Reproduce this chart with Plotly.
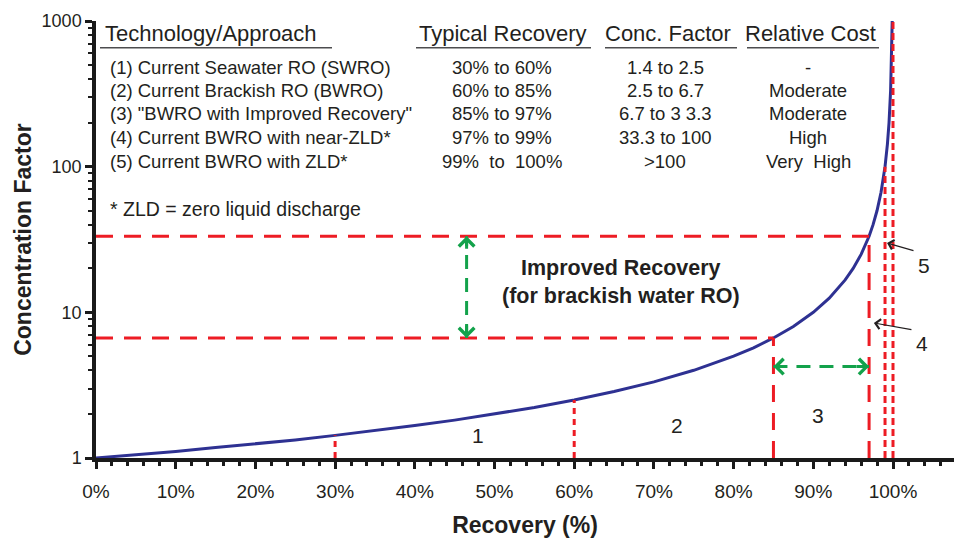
import math
import plotly.graph_objects as go

# ---------------- data ----------------
recovery_pct = [0, 5, 10, 15, 20, 25, 30, 35, 40, 45, 50, 55, 60, 65, 70, 75, 80,
                82.5, 85, 87.5, 90, 92, 94, 95, 96, 97, 97.5, 98, 98.5, 99, 99.3, 99.5, 99.7, 99.8, 99.9]
conc_factor = [1.0, 1.05, 1.11, 1.18, 1.25, 1.33, 1.43, 1.54, 1.67, 1.82, 2.0, 2.22, 2.5,
               2.86, 3.33, 4.0, 5.0, 5.71, 6.67, 8.0, 10.0, 12.5, 16.7, 20.0, 25.0, 33.3,
               40.0, 50.0, 66.7, 100.0, 143.0, 200.0, 333.0, 500.0, 1000.0]

stage_bounds_pct = [30, 60, 85, 97, 99, 100]
stage_bounds_cf = [1.43, 2.5, 6.67, 33.3, 100, 1000]

improved_arrow_x = 46.5      # recovery (%) of vertical green arrow
improved_arrow_cf = 4.24     # concentration factor of horizontal green arrow

x_tick_vals = [0, 10, 20, 30, 40, 50, 60, 70, 80, 90, 100]
x_tick_text = ["0%", "10%", "20%", "30%", "40%", "50%", "60%", "70%", "80%", "90%", "100%"]
y_tick_vals = [1, 10, 100, 1000]
y_tick_text = ["1", "10", "100", "1000"]
y_minor_vals = [m * d for d in (1, 10, 100) for m in range(2, 10)]

table_header = ["Technology/Approach", "Typical Recovery", "Conc. Factor", "Relative Cost"]
table_tech = ["(1) Current Seawater RO (SWRO)", "(2) Current Brackish RO (BWRO)",
              "(3) \"BWRO with Improved Recovery\"", "(4) Current BWRO with near-ZLD*",
              "(5) Current BWRO with ZLD*"]
table_recovery = ["30% to 60%", "60% to 85%", "85% to 97%", "97% to 99%", "99%\u00a0 to\u00a0 100%"]
table_cf = ["1.4 to 2.5", "2.5 to 6.7", "6.7 to 3 3.3", "33.3 to 100", ">100"]
table_cost = ["-", "Moderate", "Moderate", "High", "Very\u00a0 High"]
footnote = "* ZLD = zero liquid discharge"

# ---------------- styling ----------------
W, H = 954, 538
ML, MR, MT, MB = 96, 0, 21, 80
PW, PH = W - ML - MR, H - MT - MB
PX_PER_PCT = 7.97
X_MAX = PW / PX_PER_PCT
Y_MAX_LOG = 3.0

FONT = "Liberation Sans, Arial, Helvetica, sans-serif"
TXT = "#231f20"
RED = "#ed1c24"
BLUE = "#2e3192"
GREEN = "#13a24b"


def pxx(px):
    return (px - ML) / PW


def pyy(py):
    return (H - MB - py) / PH


fig = go.Figure()

# concentration factor curve
fig.add_trace(go.Scatter(x=recovery_pct, y=conc_factor, mode="lines",
                         line=dict(color=BLUE, width=3), hoverinfo="skip", showlegend=False))

# horizontal guides at CF of 85% and 97%
for i in (2, 3):
    fig.add_trace(go.Scatter(x=[0, stage_bounds_pct[i]], y=[stage_bounds_cf[i]] * 2, mode="lines",
                             line=dict(color=RED, width=3, dash="17px,11px"),
                             hoverinfo="skip", showlegend=False))
    fig.add_trace(go.Scatter(x=[stage_bounds_pct[i]] * 2, y=[1, stage_bounds_cf[i]], mode="lines",
                             line=dict(color=RED, width=3, dash="17px,11px"),
                             hoverinfo="skip", showlegend=False))
# short dashes at 30% and 60%
for i in (0, 1):
    fig.add_trace(go.Scatter(x=[stage_bounds_pct[i]] * 2, y=[1, stage_bounds_cf[i]], mode="lines",
                             line=dict(color=RED, width=3, dash="6px,5px"),
                             hoverinfo="skip", showlegend=False))
# dotted at 99% and 100%
for i in (4, 5):
    fig.add_trace(go.Scatter(x=[stage_bounds_pct[i]] * 2, y=[1, stage_bounds_cf[i]], mode="lines",
                             line=dict(color=RED, width=3, dash="7px,4px"),
                             hoverinfo="skip", showlegend=False))

# green dashed shafts
fig.add_trace(go.Scatter(x=[improved_arrow_x] * 2, y=[stage_bounds_cf[2], stage_bounds_cf[3]],
                         mode="lines", line=dict(color=GREEN, width=3, dash="14px,9px"),
                         hoverinfo="skip", showlegend=False))
fig.add_trace(go.Scatter(x=[stage_bounds_pct[2], stage_bounds_pct[3]], y=[improved_arrow_cf] * 2,
                         mode="lines", line=dict(color=GREEN, width=3, dash="14px,9px"),
                         hoverinfo="skip", showlegend=False))

annotations = []
# green chevron heads
heads = [
    (improved_arrow_x, stage_bounds_cf[3], 0, 14),
    (improved_arrow_x, stage_bounds_cf[2], 0, -14),
    (stage_bounds_pct[2], improved_arrow_cf, 14, 0),
    (stage_bounds_pct[3], improved_arrow_cf, -14, 0),
]
for hx, hy, ax, ay in heads:
    annotations.append(dict(x=hx, y=math.log10(hy), xref="x", yref="y", ax=ax, ay=ay,
                            text="", showarrow=True, arrowhead=4, arrowsize=1.0,
                            arrowwidth=3, arrowcolor=GREEN, standoff=0))

# black pointer arrows for 4 and 5
pointers = [(97.6, 0.927, 102.5, 0.879), (99.25, 1.476, 102.76, 1.421)]
for tx, ty, sx, sy in pointers:
    annotations.append(dict(x=tx, y=ty, xref="x", yref="y", ax=sx, ay=sy, axref="x", ayref="y",
                            text="", showarrow=True, arrowhead=4, arrowsize=1.6,
                            arrowwidth=1.2, arrowcolor=TXT, standoff=0))

# region labels
region_labels = [("1", 478, 435), ("2", 676.7, 425.7), ("3", 818, 415), ("4", 921.7, 343.3), ("5", 924, 265)]
for t, x, y in region_labels:
    annotations.append(dict(x=pxx(x), y=pyy(y), xref="paper", yref="paper", text=t, showarrow=False,
                            font=dict(family=FONT, size=21, color=TXT), xanchor="center", yanchor="middle"))

# improved recovery caption
annotations.append(dict(x=pxx(621), y=pyy(268), xref="paper", yref="paper", text="<b>Improved Recovery</b>",
                        showarrow=False, font=dict(family=FONT, size=21.5, color=TXT),
                        xanchor="center", yanchor="middle"))
annotations.append(dict(x=pxx(621), y=pyy(296), xref="paper", yref="paper",
                        text="<b>(for brackish water RO)</b>", showarrow=False,
                        font=dict(family=FONT, size=21.5, color=TXT), xanchor="center", yanchor="middle"))

# table
header_pos = [(103, "left"), (502.5, "center"), (668, "center"), (810.5, "center")]
for txt, (hx, anc) in zip(table_header, header_pos):
    annotations.append(dict(x=pxx(hx), y=pyy(33.5), xref="paper", yref="paper", text=txt, showarrow=False,
                            font=dict(family=FONT, size=22, color=TXT), xanchor=anc, yanchor="middle"))
row_y = [67.7, 90.7, 114.0, 137.7, 161.5]
cols = [(table_tech, 108, "left"), (table_recovery, 502, "center"), (table_cf, 665, "center"),
        (table_cost, 808, "center")]
for values, cx, anc in cols:
    for v, ry in zip(values, row_y):
        annotations.append(dict(x=pxx(cx), y=pyy(ry), xref="paper", yref="paper", text=v, showarrow=False,
                                font=dict(family=FONT, size=18.5, color=TXT), xanchor=anc, yanchor="middle"))
annotations.append(dict(x=pxx(108), y=pyy(208.5), xref="paper", yref="paper", text=footnote, showarrow=False,
                        font=dict(family=FONT, size=19.5, color=TXT), xanchor="left", yanchor="middle"))

shapes = []
for x0, x1 in [(100, 332), (416, 591), (605, 737), (747, 879)]:
    shapes.append(dict(type="line", xref="paper", yref="paper", x0=pxx(x0), x1=pxx(x1),
                       y0=pyy(47.7), y1=pyy(47.7), line=dict(color="#4d4d4f", width=1.5)))

fig.update_layout(
    width=W, height=H,
    margin=dict(l=ML, r=MR, t=MT, b=MB, pad=0),
    paper_bgcolor="white", plot_bgcolor="white",
    showlegend=False,
    annotations=annotations,
    shapes=shapes,
    font=dict(family=FONT, color=TXT),
)

fig.update_xaxes(
    range=[0, X_MAX], tickmode="array", tickvals=x_tick_vals, ticktext=x_tick_text,
    ticks="outside", ticklen=7, tickwidth=3, tickcolor="#1a1a1a",
    minor=dict(tick0=0, dtick=2, ticks="outside", ticklen=4, tickwidth=3, tickcolor="#1a1a1a", showgrid=False),
    showline=True, linewidth=3.5, linecolor="#1a1a1a", showgrid=False, zeroline=False,
    tickfont=dict(family=FONT, size=19, color=TXT), ticklabelstandoff=6,
    title=dict(text="<b>Recovery (%)</b>", font=dict(family=FONT, size=23, color=TXT), standoff=18),
)
fig.update_yaxes(
    type="log", range=[0, Y_MAX_LOG], tickmode="array", tickvals=y_tick_vals, ticktext=y_tick_text,
    ticks="outside", ticklen=7, tickwidth=2.5, tickcolor="#1a1a1a",
    minor=dict(tickmode="array", tickvals=y_minor_vals, ticks="outside", ticklen=4.5, tickwidth=2,
               tickcolor="#1a1a1a", showgrid=False),
    showline=True, linewidth=3.5, linecolor="#1a1a1a", showgrid=False, zeroline=False,
    tickfont=dict(family=FONT, size=18, color=TXT),
    title=dict(text="<b>Concentration Factor</b>", font=dict(family=FONT, size=23, color=TXT), standoff=5),
)

fig.write_html("out.html", config={"displayModeBar": False},
               post_script="document.body.style.margin='0px';")
